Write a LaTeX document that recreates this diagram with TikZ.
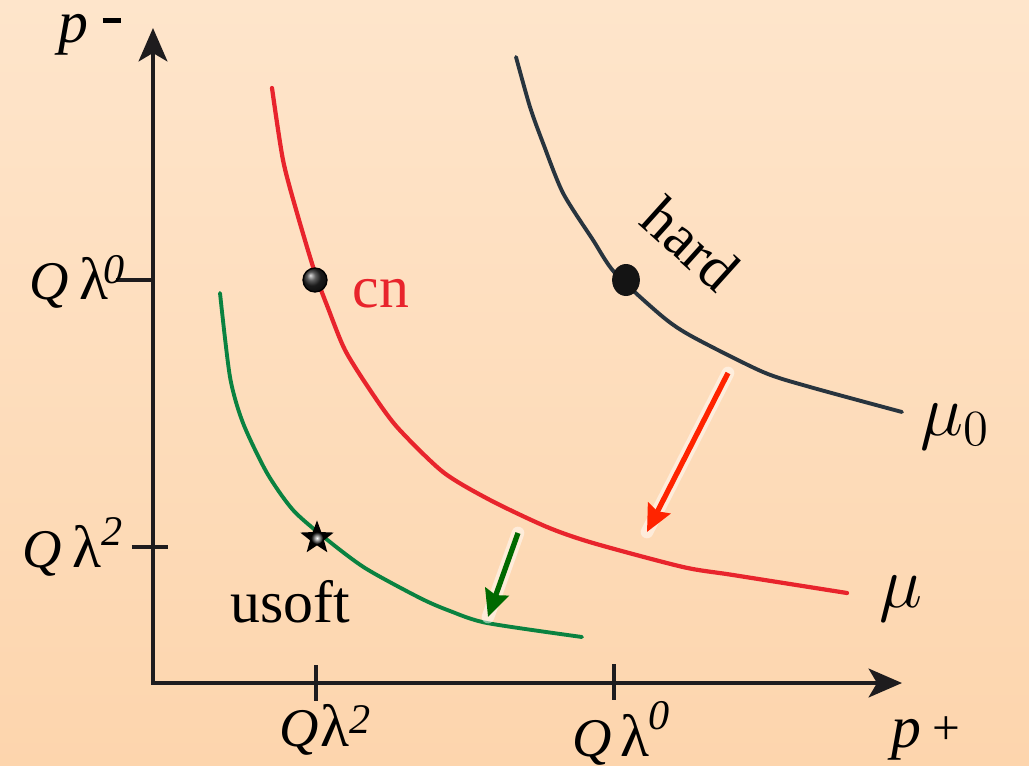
\documentclass[tikz,border=0pt]{standalone}
\usepackage{fontspec}
\setmainfont{Liberation Serif}
\usepackage{tikz}
\usetikzlibrary{shapes.geometric, arrows.meta, positioning}
\definecolor{bgTop}{RGB}{254, 229, 203}
\definecolor{bgBot}{RGB}{253, 213, 173}
\definecolor{axisInk}{RGB}{30, 28, 30}
\definecolor{hardInk}{RGB}{40, 52, 62}
\definecolor{cnRed}{RGB}{232, 36, 44}
\definecolor{usGreen}{RGB}{10, 130, 64}
\definecolor{runRed}{RGB}{255, 36, 0}
\definecolor{runGreen}{RGB}{0, 105, 0}
% Q lambda^n label: gap after Q, kern before exponent, raise, exponent
\newcommand{\qlam}[4]{\fontsize{15.5}{18}\selectfont\textit{Q}\hspace{#1}{\fontsize{17}{18}\selectfont λ}\hspace{#2}\raisebox{#3}{\fontsize{12}{12}\selectfont\textit{#4}}}
\tikzset{
  axisline/.style={
    line width=1pt, draw=axisInk,
    {Stealth[length=9.5pt, width=8.2pt, inset=2.4pt]}-{Stealth[length=9.5pt, width=8.2pt, inset=2.4pt]}
  },
  tickline/.style={line width=1pt, draw=axisInk},
  flowline/.style={line width=1.1pt, line cap=round, line join=round},
  glow/.style={draw=white, draw opacity=0.5, line width=3.6pt, line cap=round},
  runarrow/.style={
    line width=1.5pt,
    -{Stealth[length=7.6pt, width=7pt, inset=1pt]}
  },
  lbl/.style={inner sep=0pt, font=\fontsize{17}{20}\selectfont},
  ball/.style={
    circle, inner sep=0pt, minimum size=6.8pt,
    draw=black, thin, shading=ball, ball color=black!85
  }
}

\begin{document}
\begin{tikzpicture}[x=0.01cm, y=-0.01cm]
  \useasboundingbox (0,0) rectangle (1029,766);
  \shade[top color=bgTop, bottom color=bgBot] (0,0) rectangle (1029,766);

  % axes
  \coordinate (org)  at (153,683);
  \coordinate (ytip) at (153,28);
  \coordinate (xtip) at (902,683);
  \draw[axisline] (ytip) -- (org) -- (xtip);

  \draw[tickline] (116,280) -- (153,280);
  \draw[tickline] (132,547) -- (168,547);
  \draw[tickline] (316,665) -- (316,701);
  \draw[tickline] (614,664) -- (614,700);

  \node[lbl, anchor=base west] (pminus) at (58,42)
    {\textit{p}\hspace{4pt}\raisebox{5.4pt}{\rule{5.1pt}{1.5pt}}};
  \node[lbl, anchor=base west] (pplus) at (891,747)
    {\textit{p}\hspace{3pt}\raisebox{0.8pt}{\fontsize{14}{14}\selectfont +}};

  \node[lbl, anchor=base west] (ylam0) at (29,299)  {\qlam{3pt}{-1.5pt}{4.5pt}{0}};
  \node[lbl, anchor=base west] (ylam2) at (22,567)  {\qlam{3pt}{0pt}{6pt}{2}};
  \node[lbl, anchor=base west] (xlam2) at (279,746) {\qlam{0.5pt}{0pt}{3.5pt}{2}};
  \node[lbl, anchor=base west] (xlam0) at (572,756) {\qlam{2.5pt}{-0.5pt}{7.5pt}{0}};

  % running scales
  \draw[flowline, draw=hardInk] plot[smooth, tension=0.45] coordinates {
    (516,57) (530,107) (543,143) (563,193) (593,240) (615,273)
    (663,317) (693,337) (763,372) (810,387) (902,412)};
  \draw[flowline, draw=cnRed, line width=1.2pt] plot[smooth, tension=0.45] coordinates {
    (272,88) (283,160) (297,213) (315,273) (328,308) (345,350)
    (370,390) (397,427) (443,472) (490,500) (547,527) (593,543)
    (683,567) (733,575) (847,593)};
  \draw[flowline, draw=usGreen] plot[smooth, tension=0.45] coordinates {
    (220,293) (230,377) (243,423) (267,473) (293,510) (325,538)
    (365,568) (420,598) (450,611) (487,623) (582,637)};

  \node[ellipse, inner sep=0pt, minimum width=7.9pt, minimum height=9.1pt,
        fill=black!92] (hardpt) at (626,280) {};
  \node[ball] (cnpt) at (315,280) {};
  \node[star, star points=5, star point ratio=2.4, inner sep=0pt,
        minimum size=10pt, fill=black] (uspt) at (317,538) {};
  \shade[inner color=white, outer color=black] (uspt.center) circle (1.7pt);

  \node[lbl, text=cnRed, anchor=base west] (cnlbl) at (352,307) {cn};
  \node[lbl, anchor=base west] (uslbl) at (230,622) {usoft};
  \node[lbl, rotate=-42] (hardlbl) at (691,244) {hard};
  \node[inner sep=0pt, anchor=base west, font=\fontsize{20.74}{25}\selectfont]
    (mu0) at (920,435) {$\mu_0$};
  \node[inner sep=0pt, anchor=base west, font=\fontsize{20.74}{25}\selectfont]
    (mu) at (879,607) {$\mu$};

  % evolution arrows
  \coordinate (rs) at (728,373);
  \coordinate (re) at (647,532);
  \coordinate (gs) at (518,533);
  \coordinate (ge) at (488,617);
  \draw[glow] (rs) -- (re);
  \draw[runarrow, draw=runRed, fill=runRed] (rs) -- (re);
  \draw[glow] (gs) -- (ge);
  \draw[runarrow, draw=runGreen, fill=runGreen] (gs) -- (ge);
\end{tikzpicture}
\end{document}
